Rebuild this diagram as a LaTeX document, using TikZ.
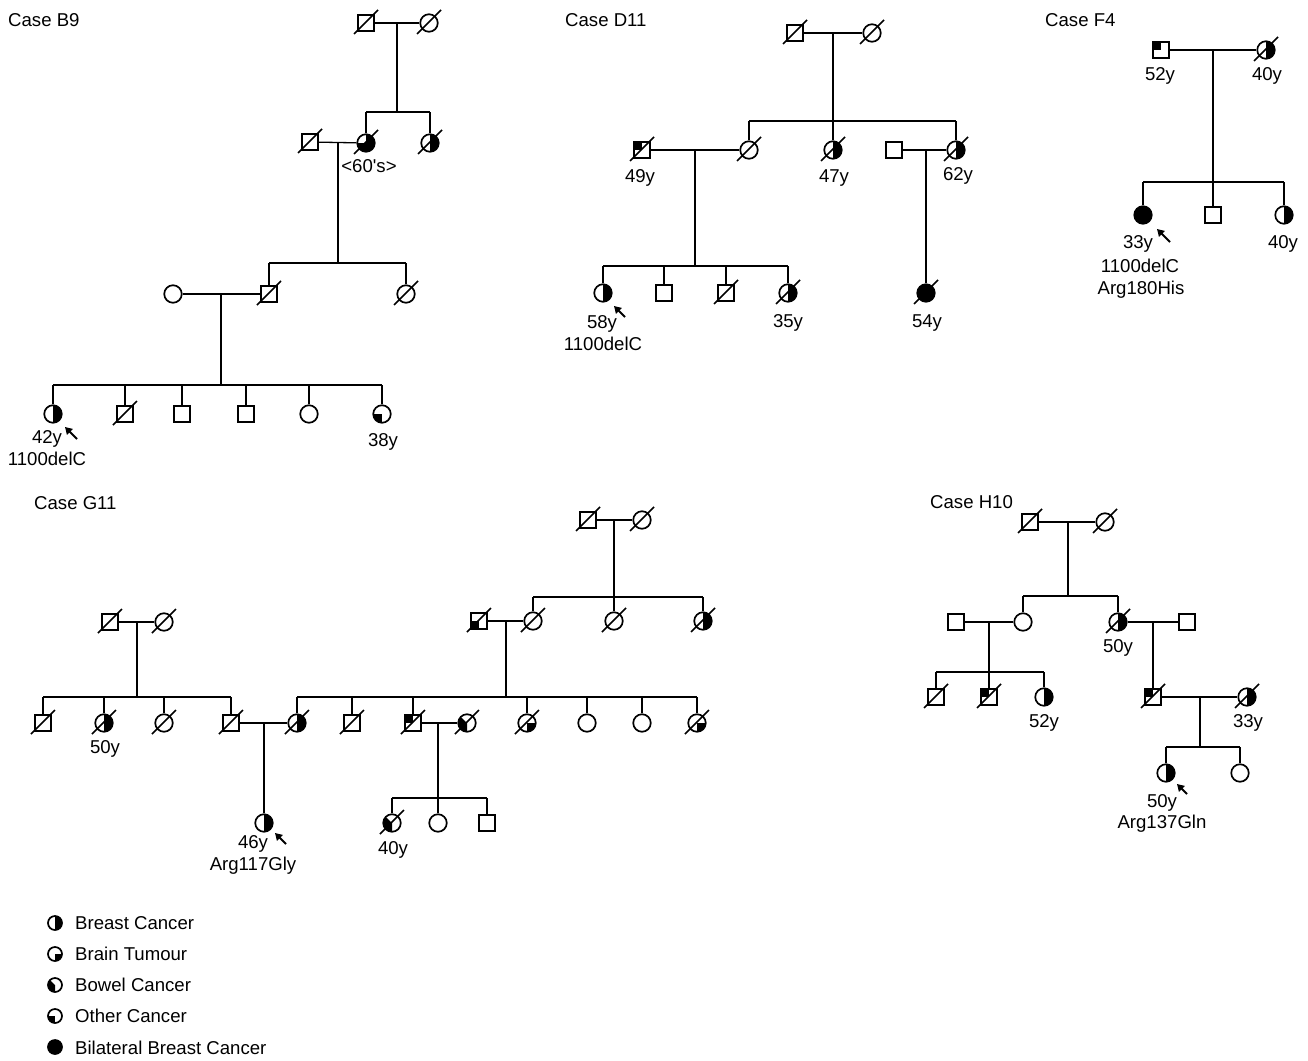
\documentclass[tikz,border=0pt]{standalone}
\usepackage{fontspec}
\setmainfont{Liberation Sans}
\usetikzlibrary{arrows.meta}
\tikzset{
 sym/.style={draw, line width=1.7pt, inner sep=0pt, fill=white},
 male/.style={sym, rectangle, minimum size=16.5pt},
 female/.style={sym, circle, minimum size=17.5pt},
 lfemale/.style={sym, circle, minimum size=14pt},
 ln/.style={line width=1.3pt},
 slashln/.style={line width=1.6pt},
 parrow/.style={line width=2pt, -{Triangle[length=7pt,width=8pt]}},
 lbl/.style={anchor=base, inner sep=0pt},
 lblw/.style={anchor=base west, inner sep=0pt},
 qBreast/.style={path picture={\fill[black] (path picture bounding box.north) rectangle (path picture bounding box.south east);}},
 qBrain/.style={path picture={\fill[black] (path picture bounding box.center) rectangle (path picture bounding box.south east);}},
 qBowel/.style={path picture={\fill[black] (path picture bounding box.center) -- (path picture bounding box.north west) -- (path picture bounding box.south west) -- (path picture bounding box.south) -- cycle;}},
 qOther/.style={path picture={\fill[black] (path picture bounding box.west) rectangle (path picture bounding box.south);}},
 qUL/.style={path picture={\fill[black] (path picture bounding box.north west) rectangle (path picture bounding box.center);}},
 qThree/.style={path picture={\fill[black] (path picture bounding box.north) rectangle (path picture bounding box.south east); \fill[black] (path picture bounding box.west) rectangle (path picture bounding box.south);}},
 qFull/.style={fill=black},
}
\newcommand{\dcd}[1]{\draw[slashln] ([shift={(-12,11)}]#1.center) -- ([shift={(12,-13)}]#1.center);}
\begin{document}
\begin{tikzpicture}[x=1pt,y=-1pt,font=\fontsize{18.6}{22}\selectfont]
\useasboundingbox (0,0) rectangle (1308,1060);

% ================= Case B9 =================
\node[lblw] (tb9) at (8,27) {Case B9};
\node[male] (b9a) at (366,23) {};
\node[female] (b9b) at (429,23) {};
\coordinate (b9m1) at (397,23); \coordinate (b9s1) at (397,112);
\node[male] (b9e) at (310,142) {};
\node[female,qThree] (b9c) at (366,143) {};
\node[female,qBreast] (b9d) at (430,143) {};
\coordinate (b9m2) at (338,143); \coordinate (b9s2) at (338,263);
\node[female] (b9h) at (173,294) {};
\node[male] (b9f) at (269,294) {};
\node[female] (b9g) at (406,294) {};
\coordinate (b9m3) at (221,294); \coordinate (b9s3) at (221,385);
\node[female,qBreast] (b9k1) at (53,414) {};
\node[male] (b9k2) at (125,414) {};
\node[male] (b9k3) at (182,414) {};
\node[male] (b9k4) at (246,414) {};
\node[female] (b9k5) at (309,414) {};
\node[female,qOther] (b9k6) at (382,414) {};
\draw[ln] (b9a) -- (b9b); \draw[ln] (b9m1) -- (b9s1);
\draw[ln] (b9c |- b9s1) -- (b9d |- b9s1);
\draw[ln] (b9c |- b9s1) -- (b9c); \draw[ln] (b9d |- b9s1) -- (b9d);
\draw[ln] (b9e) -- (b9c); \draw[ln] (b9m2) -- (b9s2);
\draw[ln] (b9f |- b9s2) -- (b9g |- b9s2);
\draw[ln] (b9f |- b9s2) -- (b9f); \draw[ln] (b9g |- b9s2) -- (b9g);
\draw[ln] (b9h) -- (b9f); \draw[ln] (b9m3) -- (b9s3);
\draw[ln] (b9k1 |- b9s3) -- (b9k6 |- b9s3);
\foreach \k in {b9k1,b9k2,b9k3,b9k4,b9k5,b9k6} {\draw[ln] (\k |- b9s3) -- (\k);}
\dcd{b9a}\dcd{b9b}\dcd{b9e}\dcd{b9c}\dcd{b9d}\dcd{b9f}\dcd{b9g}\dcd{b9k2}
\node[lbl] (b9l1) at (369,172) {<60\textquotesingle s>};
\node[lbl] (b9l2) at (47,443) {42y};
\node[lbl] (b9l3) at (47,465) {1100delC};
\node[lbl] (b9l4) at (383,446) {38y};
\coordinate (b9pa) at (77,439); \coordinate (b9pb) at (65,427);
\draw[parrow] (b9pa) -- (b9pb);

% ================= Case D11 =================
\node[lblw] (td11) at (565,27) {Case D11};
\node[male] (d1) at (795,33) {};
\node[female] (d2) at (872,33) {};
\coordinate (dm1) at (833,33); \coordinate (ds1) at (833,121);
\node[male,qUL] (d6) at (642,150) {};
\node[female] (d3) at (749,150) {};
\node[female,qBreast] (d4) at (833,150) {};
\node[male] (d7) at (894,150) {};
\node[female,qBreast] (d5) at (956,150) {};
\coordinate (dm2) at (695,150); \coordinate (ds2) at (695,266);
\coordinate (dm3) at (926,150);
\node[female,qFull] (d8) at (926,293) {};
\node[female,qBreast] (d9) at (603,293) {};
\node[male] (d10) at (664,293) {};
\node[male] (d11) at (726,293) {};
\node[female,qBreast] (d12) at (788,293) {};
\draw[ln] (d1) -- (d2); \draw[ln] (dm1) -- (ds1);
\draw[ln] (d3 |- ds1) -- (d5 |- ds1);
\foreach \k in {d3,d4,d5} {\draw[ln] (\k |- ds1) -- (\k);}
\draw[ln] (d6) -- (d3); \draw[ln] (dm2) -- (ds2);
\draw[ln] (d7) -- (d5); \draw[ln] (dm3) -- (d8);
\draw[ln] (d9 |- ds2) -- (d12 |- ds2);
\foreach \k in {d9,d10,d11,d12} {\draw[ln] (\k |- ds2) -- (\k);}
\dcd{d1}\dcd{d2}\dcd{d6}\dcd{d3}\dcd{d4}\dcd{d5}\dcd{d8}\dcd{d11}\dcd{d12}
\node[lbl] (dl1) at (640,182) {49y};
\node[lbl] (dl2) at (834,182) {47y};
\node[lbl] (dl3) at (958,180) {62y};
\node[lbl] (dl4) at (602,328) {58y};
\node[lbl] (dl5) at (603,350) {1100delC};
\node[lbl] (dl6) at (788,327) {35y};
\node[lbl] (dl7) at (927,327) {54y};
\coordinate (dpa) at (625,317); \coordinate (dpb) at (614,306);
\draw[parrow] (dpa) -- (dpb);

% ================= Case F4 =================
\node[lblw] (tf4) at (1045,27) {Case F4};
\node[male,qUL] (f1) at (1161,50) {};
\node[female,qBreast] (f2) at (1266,50) {};
\coordinate (fm1) at (1213,50); \coordinate (fs1) at (1213,182);
\node[female,qFull] (f3) at (1143,215) {};
\node[male] (f4) at (1213,215) {};
\node[female,qBreast] (f5) at (1284,215) {};
\draw[ln] (f1) -- (f2); \draw[ln] (fm1) -- (f4);
\draw[ln] (f3 |- fs1) -- (f5 |- fs1);
\draw[ln] (f3 |- fs1) -- (f3); \draw[ln] (f5 |- fs1) -- (f5);
\dcd{f2}
\node[lbl] (fl1) at (1160,80) {52y};
\node[lbl] (fl2) at (1267,80) {40y};
\node[lbl] (fl3) at (1138,248) {33y};
\node[lbl] (fl4) at (1140,272) {1100delC};
\node[lbl] (fl5) at (1141,294) {Arg180His};
\node[lbl] (fl6) at (1283,248) {40y};
\coordinate (fpa) at (1170,242); \coordinate (fpb) at (1157,229);
\draw[parrow] (fpa) -- (fpb);

% ================= Case G11 =================
\node[lblw] (tg11) at (34,509) {Case G11};
\node[male] (g1) at (588,520) {};
\node[female] (g2) at (642,520) {};
\coordinate (gm1) at (614,520); \coordinate (gs1) at (614,597);
\node[male,qOther] (g3) at (479,621) {};
\node[female] (g4) at (533,621) {};
\node[female] (g5) at (614,621) {};
\node[female,qBreast] (g6) at (703,621) {};
\coordinate (gm2) at (506,621); \coordinate (gs2) at (506,697);
\node[male] (g7) at (110,622) {};
\node[female] (g8) at (164,622) {};
\coordinate (gm3) at (137,622); \coordinate (gs3) at (137,697);
\node[male] (g9) at (43,723) {};
\node[female,qBreast] (g10) at (104,723) {};
\node[female] (g11) at (164,723) {};
\node[male] (g12) at (231,723) {};
\node[female,qBreast] (g13) at (297,723) {};
\node[male] (g14) at (352,723) {};
\node[male,qUL] (g15) at (413,723) {};
\node[female,qBowel] (g16) at (467,723) {};
\node[female,qBrain] (g17) at (527,723) {};
\node[female] (g18) at (587,723) {};
\node[female] (g19) at (642,723) {};
\node[female,qBrain] (g20) at (697,723) {};
\coordinate (gm4) at (264,723);
\node[female,qBreast] (g21) at (264,823) {};
\coordinate (gm5) at (438,723); \coordinate (gs5) at (438,798);
\node[female,qBowel] (g22) at (392,823) {};
\node[female] (g23) at (438,823) {};
\node[male] (g24) at (487,823) {};
\draw[ln] (g1) -- (g2); \draw[ln] (gm1) -- (gs1);
\draw[ln] (g4 |- gs1) -- (g6 |- gs1);
\foreach \k in {g4,g5,g6} {\draw[ln] (\k |- gs1) -- (\k);}
\draw[ln] (g3) -- (g4); \draw[ln] (gm2) -- (gs2);
\draw[ln] (g7) -- (g8); \draw[ln] (gm3) -- (gs3);
\draw[ln] (g9 |- gs3) -- (g12 |- gs3);
\foreach \k in {g9,g10,g11,g12} {\draw[ln] (\k |- gs3) -- (\k);}
\draw[ln] (g13 |- gs2) -- (g20 |- gs2);
\foreach \k in {g13,g14,g15,g17,g18,g19,g20} {\draw[ln] (\k |- gs2) -- (\k);}
\draw[ln] (g12) -- (g13); \draw[ln] (gm4) -- (g21);
\draw[ln] (g15) -- (g16); \draw[ln] (gm5) -- (gs5);
\draw[ln] (g22 |- gs5) -- (g24 |- gs5);
\foreach \k in {g22,g23,g24} {\draw[ln] (\k |- gs5) -- (\k);}
\foreach \k in {g1,g2,g3,g4,g5,g6,g7,g8,g9,g10,g11,g12,g13,g14,g15,g16,g17,g20,g22} {\dcd{\k}}
\node[lbl] (gl1) at (105,753) {50y};
\node[lbl] (gl2) at (253,848) {46y};
\node[lbl] (gl3) at (253,870) {Arg117Gly};
\node[lbl] (gl4) at (393,854) {40y};
\coordinate (gpa) at (286,844); \coordinate (gpb) at (275,833);
\draw[parrow] (gpa) -- (gpb);

% ================= Case H10 =================
\node[lblw] (th10) at (930,508) {Case H10};
\node[male] (h1) at (1030,522) {};
\node[female] (h2) at (1105,522) {};
\coordinate (hm1) at (1068,522); \coordinate (hs1) at (1068,596);
\node[male] (h3) at (956,622) {};
\node[female] (h4) at (1023,622) {};
\node[female,qBreast] (h5) at (1118,622) {};
\node[male] (h6) at (1187,622) {};
\coordinate (hm2) at (989,622); \coordinate (hs2) at (989,672);
\node[male] (h7) at (936,697) {};
\node[male,qUL] (h8) at (989,697) {};
\node[female,qBreast] (h9) at (1044,697) {};
\coordinate (hm3) at (1153,622);
\node[male,qUL] (h10) at (1153,697) {};
\node[female,qBreast] (h11) at (1247,697) {};
\coordinate (hm4) at (1200,697); \coordinate (hs4) at (1200,747);
\node[female,qBreast] (h12) at (1166,773) {};
\node[female] (h13) at (1240,773) {};
\draw[ln] (h1) -- (h2); \draw[ln] (hm1) -- (hs1);
\draw[ln] (h4 |- hs1) -- (h5 |- hs1);
\draw[ln] (h4 |- hs1) -- (h4); \draw[ln] (h5 |- hs1) -- (h5);
\draw[ln] (h3) -- (h4); \draw[ln] (hm2) -- (hs2);
\draw[ln] (h7 |- hs2) -- (h9 |- hs2);
\foreach \k in {h7,h8,h9} {\draw[ln] (\k |- hs2) -- (\k);}
\draw[ln] (h5) -- (h6); \draw[ln] (hm3) -- (h10);
\draw[ln] (h10) -- (h11); \draw[ln] (hm4) -- (hs4);
\draw[ln] (h12 |- hs4) -- (h13 |- hs4);
\draw[ln] (h12 |- hs4) -- (h12); \draw[ln] (h13 |- hs4) -- (h13);
\foreach \k in {h1,h2,h5,h7,h8,h10,h11} {\dcd{\k}}
\node[lbl] (hl1) at (1118,652) {50y};
\node[lbl] (hl2) at (1044,727) {52y};
\node[lbl] (hl3) at (1248,727) {33y};
\node[lbl] (hl4) at (1162,807) {50y};
\node[lbl] (hl5) at (1162,828) {Arg137Gln};
\coordinate (hpa) at (1187,794); \coordinate (hpb) at (1177,784);
\draw[parrow] (hpa) -- (hpb);

% ================= Legend =================
\node[lfemale,qBreast] (lg1) at (55,923) {};
\node[lfemale,qBrain] (lg2) at (55,954) {};
\node[lfemale,qBowel] (lg3) at (55,985) {};
\node[lfemale,qOther] (lg4) at (55,1016) {};
\node[lfemale,qFull] (lg5) at (55,1047) {};
\node[lblw] (lt1) at (75,929) {Breast Cancer};
\node[lblw] (lt2) at (75,960) {Brain Tumour};
\node[lblw] (lt3) at (75,991) {Bowel Cancer};
\node[lblw] (lt4) at (75,1022) {Other Cancer};
\node[lblw] (lt5) at (75,1054) {Bilateral Breast Cancer};
\end{tikzpicture}
\end{document}
